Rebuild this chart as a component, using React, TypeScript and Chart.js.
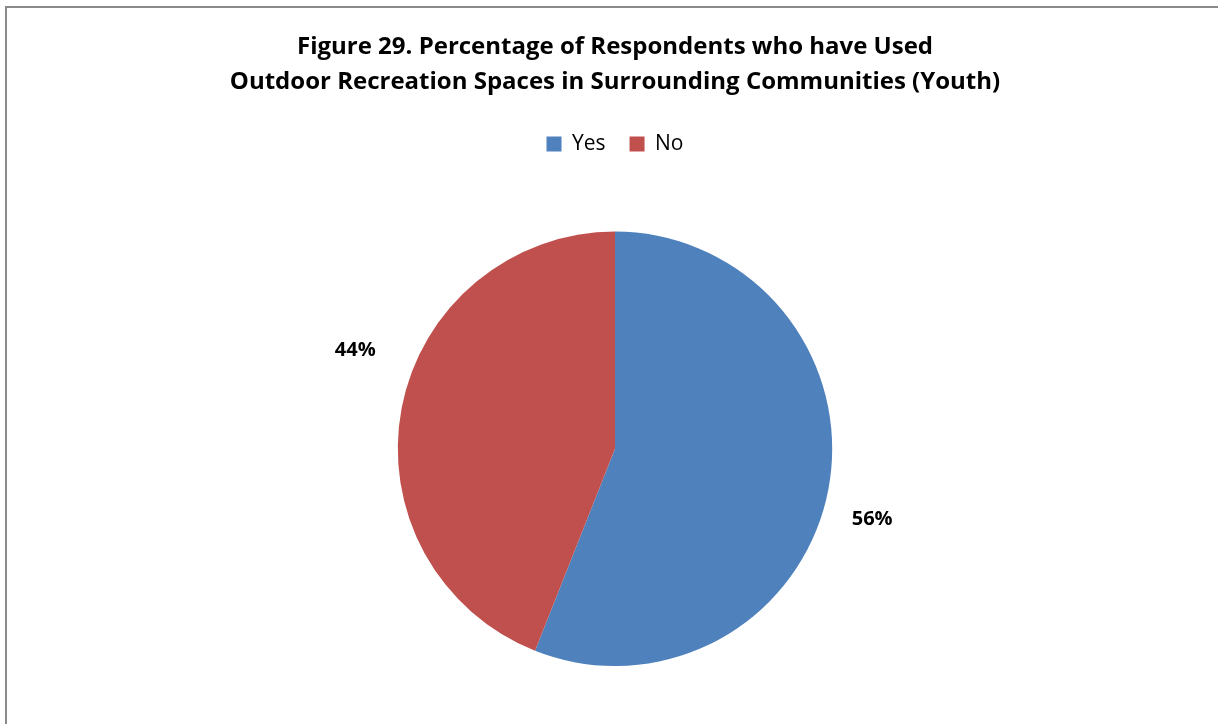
import React, { useEffect, useRef } from "react";
import { Chart, registerables } from "chart.js";

Chart.register(...registerables);

const categories = ["Yes", "No"];
const values = [56, 44];
const valueLabels = ["56%", "44%"];
const colors = ["#4F81BD", "#C0504D"];
const titleLines = [
  "Figure 29. Percentage of Respondents who have Used",
  "Outdoor Recreation Spaces in Surrounding Communities (Youth)",
];
// placement of each data label: fraction along its slice, distance as a multiple of radius
const labelAngleFrac = [0.522, 0.563];
const labelRadiusFactor = [1.227, 1.279];

const FONT = "'Open Sans'";

const labelPlugin = {
  id: "pieLabels",
  afterDatasetsDraw(chart: any) {
    const ctx = chart.ctx;
    const meta = chart.getDatasetMeta(0);
    ctx.save();
    ctx.font = `bold 20px ${FONT}`;
    ctx.fillStyle = "#000";
    ctx.textAlign = "center";
    ctx.textBaseline = "middle";
    meta.data.forEach((arc: any, i: number) => {
      const { x, y, startAngle, endAngle, outerRadius } = arc.getProps(
        ["x", "y", "startAngle", "endAngle", "outerRadius"],
        true
      );
      const a = startAngle + (endAngle - startAngle) * labelAngleFrac[i];
      const r = outerRadius * labelRadiusFactor[i];
      ctx.fillText(valueLabels[i], x + Math.cos(a) * r, y + Math.sin(a) * r);
    });
    ctx.restore();
  },
};

const legendGapPlugin = {
  id: "legendGap",
  beforeInit(chart: any) {
    const legend = chart.legend;
    if (!legend) return;
    const origFit = legend.fit;
    legend.fit = function () {
      origFit.call(this);
      this.height += 67;
    };
  },
};

export default function App() {
  const ref = useRef<HTMLCanvasElement | null>(null);
  useEffect(() => {
    if (!ref.current) return;
    const chart = new Chart(ref.current, {
      type: "pie",
      data: {
        labels: categories,
        datasets: [
          {
            data: values,
            backgroundColor: colors,
            borderWidth: 0,
          },
        ],
      },
      options: {
        animation: false,
        responsive: false,
        layout: { padding: { bottom: 58 } },
        plugins: {
          title: {
            display: true,
            text: titleLines,
            color: "#000",
            font: { family: FONT, size: 24, weight: "bold", lineHeight: 1.45 },
            padding: { top: 30, bottom: 10 },
          },
          legend: {
            display: true,
            position: "top",
            labels: {
              boxWidth: 15,
              boxHeight: 15,
              color: "#000",
              font: { family: FONT, size: 21 },
              padding: 24,
            },
          },
          tooltip: { enabled: false },
        },
      },
      plugins: [labelPlugin, legendGapPlugin],
    });
    return () => chart.destroy();
  }, []);
  return (
    <div
      style={{
        position: "absolute",
        left: 0,
        top: 0,
        width: 1218,
        height: 724,
        overflow: "hidden",
        background: "#fff",
      }}
    >
      <div
        style={{
          position: "absolute",
          left: 5,
          top: 6,
          width: 1400,
          height: 900,
          border: "2px solid #8a8a8a",
        }}
      />
      <canvas
        ref={ref}
        width={1218}
        height={724}
        style={{ position: "absolute", left: 6, top: 0, width: 1218, height: 724 }}
      />
    </div>
  );
}
